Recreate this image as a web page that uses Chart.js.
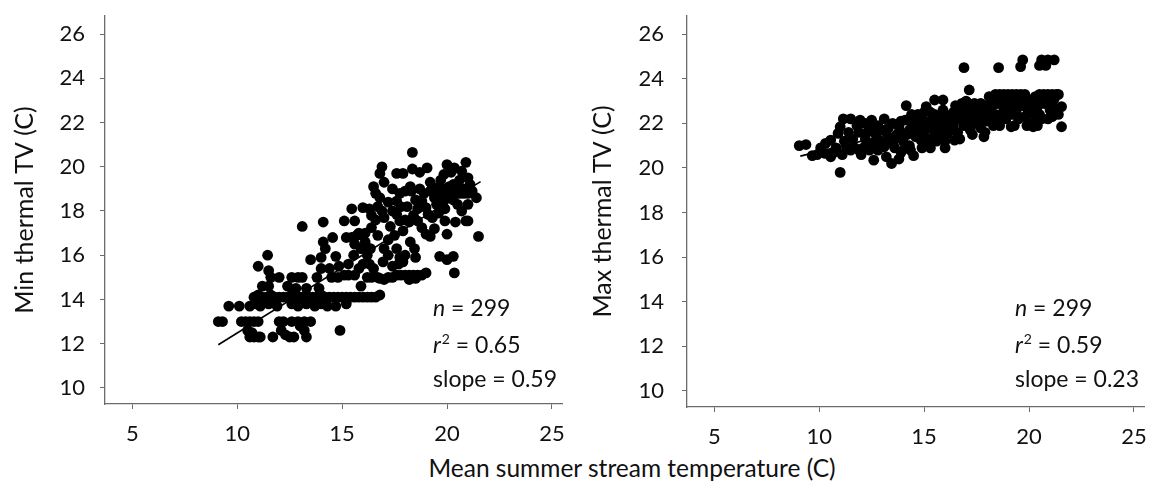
<!DOCTYPE html>
<html>
<head>
<meta charset="utf-8">
<script src="https://cdn.jsdelivr.net/npm/chart.js@4.4.1/dist/chart.umd.min.js"></script>
<style>
  html, body { margin: 0; padding: 0; background: #fff; }
  #wrap { position: relative; width: 1152px; height: 493px; overflow: hidden; font-family: Lato, sans-serif; }
  .panel { position: absolute; top: 0; width: 576px; height: 450px; }
  #xtitle { position: absolute; left: 332px; width: 600px; top: 454px; line-height: 28px;
            text-align: center; font-size: 24.5px; color: #111; }
</style>
</head>
<body>
<div id="wrap">
  <div class="panel" style="left:0"><canvas id="minChart"></canvas></div>
  <div class="panel" style="left:576px"><canvas id="maxChart"></canvas></div>
  <div id="xtitle">Mean summer stream temperature (C)</div>
</div>
<script>
"use strict";

// tick labels
const xTicks = [5, 10, 15, 20, 25];
const yTicks = [10, 12, 14, 16, 18, 20, 22, 24, 26];

// left panel: mean summer temp vs min thermal TV
const minThermal = [
  [9.1,13.0],[9.3,13.0],[9.6,13.7],[10.1,13.7],
  [10.2,13.0],[10.4,13.0],[10.6,13.0],[10.8,13.0],[11.0,13.0],
  [10.5,12.6],[10.6,12.3],[10.8,12.3],[11.0,12.3],[11.1,12.3],[10.7,12.5],
  [10.6,13.7],[10.9,13.8],[11.1,13.7],
  [10.8,14.1],[11.0,14.2],[11.2,14.1],[11.4,14.1],[11.6,14.2],[11.8,14.1],[12.0,14.1],[12.2,14.1],
  [12.4,14.1],[12.6,14.2],[12.8,14.1],[13.0,14.1],[13.2,14.1],[13.4,14.1],[13.6,14.1],[13.8,14.1],
  [14.0,14.2],[14.2,14.1],[14.4,14.1],[14.6,14.1],[14.8,14.1],[15.0,14.1],[15.2,14.1],[15.4,14.1],
  [15.6,14.1],[15.8,14.1],[16.0,14.1],[16.2,14.1],[16.4,14.1],[16.6,14.1],[16.8,14.2],
  [11.5,13.8],[11.9,13.7],[12.6,13.8],[12.9,13.7],[13.3,13.8],[13.7,13.7],[14.0,13.8],[14.3,13.7],
  [14.7,13.7],[15.2,13.8],
  [12.0,13.0],[12.2,13.0],[12.6,13.0],[12.9,13.0],[13.2,13.0],[13.5,13.0],[12.1,12.6],[12.3,12.4],
  [12.5,12.3],[12.7,12.3],[13.2,12.6],[13.3,12.3],[14.9,12.6],[11.7,12.3],[13.0,12.8],
  [11.0,15.5],[11.45,16.0],[11.5,15.3],[11.6,15.0],[11.2,14.6],[11.5,14.6],[12.0,15.0],[12.6,15.0],
  [13.1,15.0],[12.9,15.0],[13.1,17.3],[13.5,15.8],[14.1,17.5],[14.1,16.6],[14.2,16.3],[14.55,16.8],
  [14.0,15.9],[14.0,15.4],[14.4,15.4],[14.7,15.95],[14.85,15.5],[13.8,15.0],[14.5,15.0],[13.3,14.5],
  [12.4,14.6],
  [15.1,17.55],[15.6,17.55],[15.46,18.1],[15.99,18.15],[15.1,15.1],[15.3,15.1],[15.6,15.1],[15.2,16.8],
  [15.45,16.8],[15.7,16.9],[15.55,16.0],[15.9,16.3],[16.2,16.0],[16.35,16.3],[15.9,14.6],[16.2,15.0],
  [16.4,15.0],[16.7,15.0],[15.8,15.4],[16.0,15.6],[16.3,15.6],[16.1,17.0],[16.4,17.25],[16.7,16.9],
  [16.5,19.1],[16.6,18.8],[16.8,18.6],[16.9,20.0],[16.8,19.7],[16.9,18.0],[17.0,17.7],[17.0,16.3],
  [17.2,16.0],[16.95,15.7],[16.6,17.6],[16.3,18.1],[16.1,16.6],[15.8,17.0],
  [16.8,14.95],[17.0,14.9],[17.2,15.0],[17.4,15.0],[17.6,15.1],[17.8,15.1],[18.0,15.1],[18.2,15.1],
  [18.4,15.1],[18.6,15.1],[18.8,15.1],[19.0,15.2],[18.5,14.95],
  [17.6,19.7],[17.9,19.7],[18.35,20.65],[18.35,19.9],[19.05,19.95],[18.7,19.75],[17.75,18.8],[18.25,19.1],
  [18.0,18.9],[17.6,18.45],[17.6,17.85],[17.75,17.55],[17.9,17.1],[17.6,16.3],[17.75,15.9],[17.7,15.6],
  [18.25,16.6],[18.45,16.3],[18.5,15.9],[18.8,18.45],[19.0,18.15],[19.1,17.85],[19.3,17.7],[18.6,17.55],
  [18.8,17.25],[19.0,16.95],[19.2,16.85],[18.2,17.5],[18.4,17.8],[18.5,18.5],[18.7,19.0],[18.1,18.2],
  [17.3,17.3],[17.4,18.0],[17.2,16.7],[17.5,16.9],[18.0,16.0],[17.9,15.7],
  [19.3,19.05],[19.65,18.75],[19.85,18.45],[20.0,20.1],[20.35,19.95],[20.7,19.8],[20.9,20.2],[19.85,19.65],
  [20.2,19.75],[19.5,19.05],[19.8,19.0],[20.0,18.9],[20.2,18.9],[20.4,18.9],[20.6,18.8],[20.8,18.8],
  [21.0,18.8],[21.2,18.9],[20.1,19.1],[20.5,19.2],[19.9,18.1],[19.9,17.55],[20.0,16.95],[19.65,15.95],
  [20.0,15.8],[20.3,15.95],[20.35,15.2],[20.7,18.0],[20.9,17.55],[21.0,17.55],[21.4,18.6],[21.5,16.85],
  [21.1,19.2],[19.5,18.3],[19.6,17.9],[19.4,17.2],[20.5,18.3],[21.0,18.3],[20.3,18.5],[19.7,19.4],
  [19.2,18.9],
  [17.2,18.4],[17.4,19.0],[17.8,18.2],[18.0,17.6],[18.3,18.9],[18.6,18.1],[18.9,18.8],[19.2,19.3],
  [19.4,18.6],[19.8,18.6],[20.1,18.6],[20.3,19.2],[20.6,19.4],[20.8,19.0],[21.0,19.5],[20.4,17.5],
  [17.0,19.3],[16.7,18.2],[16.4,17.8],[16.0,16.9],[15.6,16.5],[15.3,15.6],[14.8,15.0],[13.9,14.5],
  [12.8,14.5],[16.5,15.4],[17.4,15.5],[18.2,14.9]
];
const minTrend = [[9.1, 11.95], [21.6, 19.33]];

// right panel: mean summer temp vs max thermal TV
const maxThermal = [
  [9.05,21.0],[9.37,21.05],[9.67,20.55],[10.07,20.9],[10.28,20.65],[10.55,20.5],[10.55,21.25],[10.9,21.55],
  [11.0,21.85],[11.15,22.2],[11.5,22.2],[11.0,19.8],
  [11.3,20.9],[11.5,20.8],[11.7,20.9],[11.9,20.8],[12.1,20.9],[12.4,20.8],[10.8,20.9],[11.1,20.6],
  [11.95,22.15],[12.5,22.15],[13.1,22.2],[12.6,20.35],[13.45,20.2],[13.1,20.95],[13.6,20.9],[13.8,21.85],
  [14.1,22.15],[14.15,22.8],[14.35,20.8],[14.5,20.55],[14.85,21.25],[15.0,21.6],[15.1,22.75],[15.3,20.9],
  [15.5,23.05],[15.9,23.05],[15.75,22.3],[16.1,21.55],[16.45,21.25],[16.9,24.5],[17.15,23.5],
  [16.8,22.9],[17.1,22.9],[17.4,22.9],[17.7,22.9],[17.85,21.4],
  [18.4,23.3],[18.6,23.3],[18.8,23.3],[19.0,23.3],[19.2,23.3],[19.4,23.3],[19.6,23.3],[19.8,23.3],
  [18.55,24.5],[19.15,21.85],[19.6,24.55],[19.7,24.85],[19.9,21.9],[20.2,21.85],[20.5,24.6],[20.6,24.85],
  [20.9,24.85],[21.2,24.85],[20.8,24.6],
  [20.5,23.3],[20.7,23.3],[20.9,23.3],[21.1,23.3],[21.3,23.3],[21.1,22.3],[21.55,22.75],[21.55,21.85],
  [19.4,22.45],[19.95,22.6],[20.4,22.75],[20.3,22.3],
  [11.6,21.3],[11.9,21.6],[12.2,21.3],[12.4,21.0],[12.7,21.5],[12.9,21.2],[13.0,21.7],[13.3,21.4],
  [13.5,21.1],[13.7,21.5],[14.0,21.2],[14.2,21.5],[14.4,21.8],[14.6,22.0],[14.8,21.9],[15.0,22.1],
  [15.2,21.8],[15.4,22.2],[15.6,21.9],[15.8,22.0],[16.0,22.4],[16.2,22.1],[16.4,22.5],[16.6,22.2],
  [16.8,22.5],[17.0,22.0],[17.2,22.4],[17.4,22.6],[17.6,22.3],[17.8,22.7],[18.0,22.5],[18.2,22.8],
  [18.4,22.4],[18.6,22.9],[18.8,22.6],[19.0,22.8],[19.2,23.0],[19.4,22.7],[19.6,23.0],[19.8,22.3],
  [20.0,23.0],[20.2,22.5],[20.4,23.0],[20.6,22.2],[20.8,22.9],[21.0,22.6],[21.2,23.1],[21.4,23.3],
  [14.6,21.4],[14.9,20.9],[15.2,21.3],[15.5,21.6],[15.8,21.4],[16.1,21.9],[16.3,21.7],[16.6,21.6],
  [16.9,21.9],[17.2,21.7],[17.5,22.0],[17.7,21.8],[18.0,22.1],[18.3,21.9],[18.5,22.2],[18.9,22.2],
  [19.2,22.4],[12.0,20.6],[12.8,20.8],[13.2,20.5],[13.9,20.7],[14.3,21.0],[15.6,21.2],[16.5,22.8],
  [15.3,22.5],[14.7,22.4],[13.5,22.0],[12.5,21.8],[11.8,21.9],[13.8,20.4],[16.0,20.9],
  [12.3,21.6],[12.6,21.1],[12.8,21.9],[13.1,21.0],[13.3,21.8],[13.6,21.3],[13.9,21.6],[14.1,20.9],
  [14.3,21.7],[14.5,22.2],[14.8,21.6],[15.1,21.1],[15.3,21.9],[15.5,22.4],[15.7,21.7],[15.9,22.6],
  [16.2,22.3],[16.4,21.9],[16.7,22.4],[16.9,22.1],[17.1,22.6],[17.3,22.1],[17.5,22.5],[17.8,22.2],
  [18.0,22.8],[18.2,22.3],[18.4,22.9],[18.7,22.4],[18.9,23.0],[19.1,22.6],[19.3,22.9],[19.5,22.2],
  [19.7,22.8],[19.9,23.1],[20.1,22.8],[20.3,23.2],[20.5,22.4],[20.7,22.9],[20.9,22.2],[21.1,22.9],
  [21.3,22.6],[13.9,22.1],[14.4,22.4],[15.0,22.5],[16.0,21.2],[16.7,21.3],[17.3,21.5],[17.9,21.6],
  [18.6,21.9],[19.3,21.9],[12.2,22.0],[11.4,21.6],[11.2,21.2],[10.3,21.1],[10.7,20.7],[9.9,20.6],
  [20.0,22.0],[20.4,21.9],[21.4,22.4],[18.1,23.2],[17.0,23.0]
];
const maxTrend = [[9.1, 20.53], [21.6, 23.41]];

const FONT = 'Lato';
const AXIS_COLOR = '#6b6b6b';
const TEXT_COLOR = '#111';

// n / r2 / slope block in the lower right of each panel
const statsPlugin = {
    id: 'stats',
    afterDatasetsDraw(chart, args, opts) {
        const { ctx, chartArea } = chart;
        const x0 = chartArea.left + 328;
        const base = [316, 353, 387];
        ctx.save();
        ctx.fillStyle = TEXT_COLOR;
        ctx.textBaseline = 'alphabetic';
        ctx.textAlign = 'left';
        const reg = `23px ${FONT}`;
        const ita = `italic 23px ${FONT}`;
        let x = x0;
        ctx.font = ita; ctx.fillText('n', x, base[0]); x += ctx.measureText('n').width;
        ctx.font = reg; ctx.fillText(' = ' + opts.n, x, base[0]);
        x = x0;
        ctx.font = ita; ctx.fillText('r', x, base[1]); x += ctx.measureText('r').width + 1;
        ctx.font = `14px ${FONT}`; ctx.fillText('2', x, base[1] - 9); x += ctx.measureText('2').width;
        ctx.font = reg; ctx.fillText(' = ' + opts.r2, x, base[1]);
        ctx.fillText('slope = ' + opts.slope, x0, base[2]);
        ctx.restore();
    }
};

function makePanel(id, points, trend, yTitle, stats, geo) {
    new Chart(document.getElementById(id), {
        type: 'scatter',
        data: {
            datasets: [
                { data: points.map(([x, y]) => ({ x, y })), backgroundColor: '#000', borderWidth: 0,
                  pointRadius: 5.4, pointHoverRadius: 5.4, order: 2 },
                { type: 'line', data: trend.map(([x, y]) => ({ x, y })), borderColor: '#000', borderWidth: 1.6,
                  pointRadius: 0, fill: false, order: 1 }
            ]
        },
        options: {
            responsive: true,
            maintainAspectRatio: false,
            animation: false,
            layout: { padding: { left: 0, top: 16, right: geo.padRight, bottom: 0 } },
            scales: {
                x: {
                    type: 'linear', min: 3.7, max: 25.48,
                    afterBuildTicks: (s) => { s.ticks = xTicks.map((v) => ({ value: v })); },
                    afterFit: (s) => { s.height = geo.xHeight; s.paddingLeft = 0; s.paddingRight = 0; },
                    ticks: { color: TEXT_COLOR, font: { family: FONT, size: 22 }, padding: 12, maxRotation: 0 },
                    grid: { drawOnChartArea: false, drawTicks: true, tickLength: 5, color: AXIS_COLOR },
                    border: { display: true, color: AXIS_COLOR, width: 1.3 }
                },
                y: {
                    type: 'linear', min: 9.27, max: 26.82,
                    afterBuildTicks: (s) => { s.ticks = yTicks.map((v) => ({ value: v })); },
                    afterFit: (s) => { s.width = geo.yWidth; s.paddingTop = 0; s.paddingBottom = 0; },
                    ticks: { color: TEXT_COLOR, font: { family: FONT, size: 22 }, padding: geo.yPad },
                    grid: { drawOnChartArea: false, drawTicks: true, tickLength: 5, color: AXIS_COLOR },
                    border: { display: true, color: AXIS_COLOR, width: 1.3 },
                    title: { display: true, text: yTitle, color: TEXT_COLOR,
                             font: { family: FONT, size: 25 }, padding: { top: geo.titlePad, bottom: 0 } }
                }
            },
            plugins: {
                legend: { display: false },
                tooltip: { enabled: false },
                stats
            }
        },
        plugins: [statsPlugin]
    });
}

makePanel('minChart', minThermal, minTrend, 'Min thermal TV (C)',
          { n: 299, r2: '0.65', slope: '0.59' },
          { yWidth: 105, padRight: 14, xHeight: 46, yPad: 15, titlePad: 9.8 });
makePanel('maxChart', maxThermal, maxTrend, 'Max thermal TV (C)',
          { n: 299, r2: '0.59', slope: '0.23' },
          { yWidth: 111, padRight: 8, xHeight: 43, yPad: 18, titlePad: 11.6 });
</script>
</body>
</html>
